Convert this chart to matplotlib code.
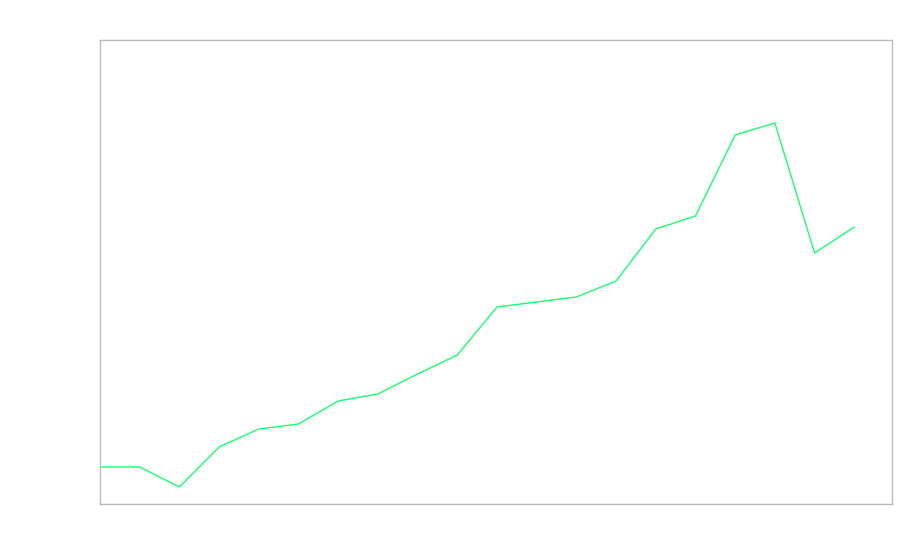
import matplotlib
matplotlib.use('Agg')
from matplotlib import pyplot as plt

# values (no tick labels in the reference)
x = list(range(20))
values = [37, 37, 17, 57, 75, 80, 103, 110, 130, 149,
          197, 202, 207, 223, 275, 288, 369, 381, 251, 277]

fig = plt.figure(figsize=(9, 5.6), dpi=100)
ax = fig.add_axes([0.1111, 0.1, 0.88, 0.8286])
ax.plot(x, values, color='#1aff6e', linewidth=1.0)
ax.set_xlim(0, 19.95)
ax.set_ylim(0, 464)
ax.set_xticks([])
ax.set_yticks([])
for s in ax.spines.values():
    s.set_color('#bbbbbb')
    s.set_linewidth(1.0)

fig.savefig('out.png', dpi=100)
